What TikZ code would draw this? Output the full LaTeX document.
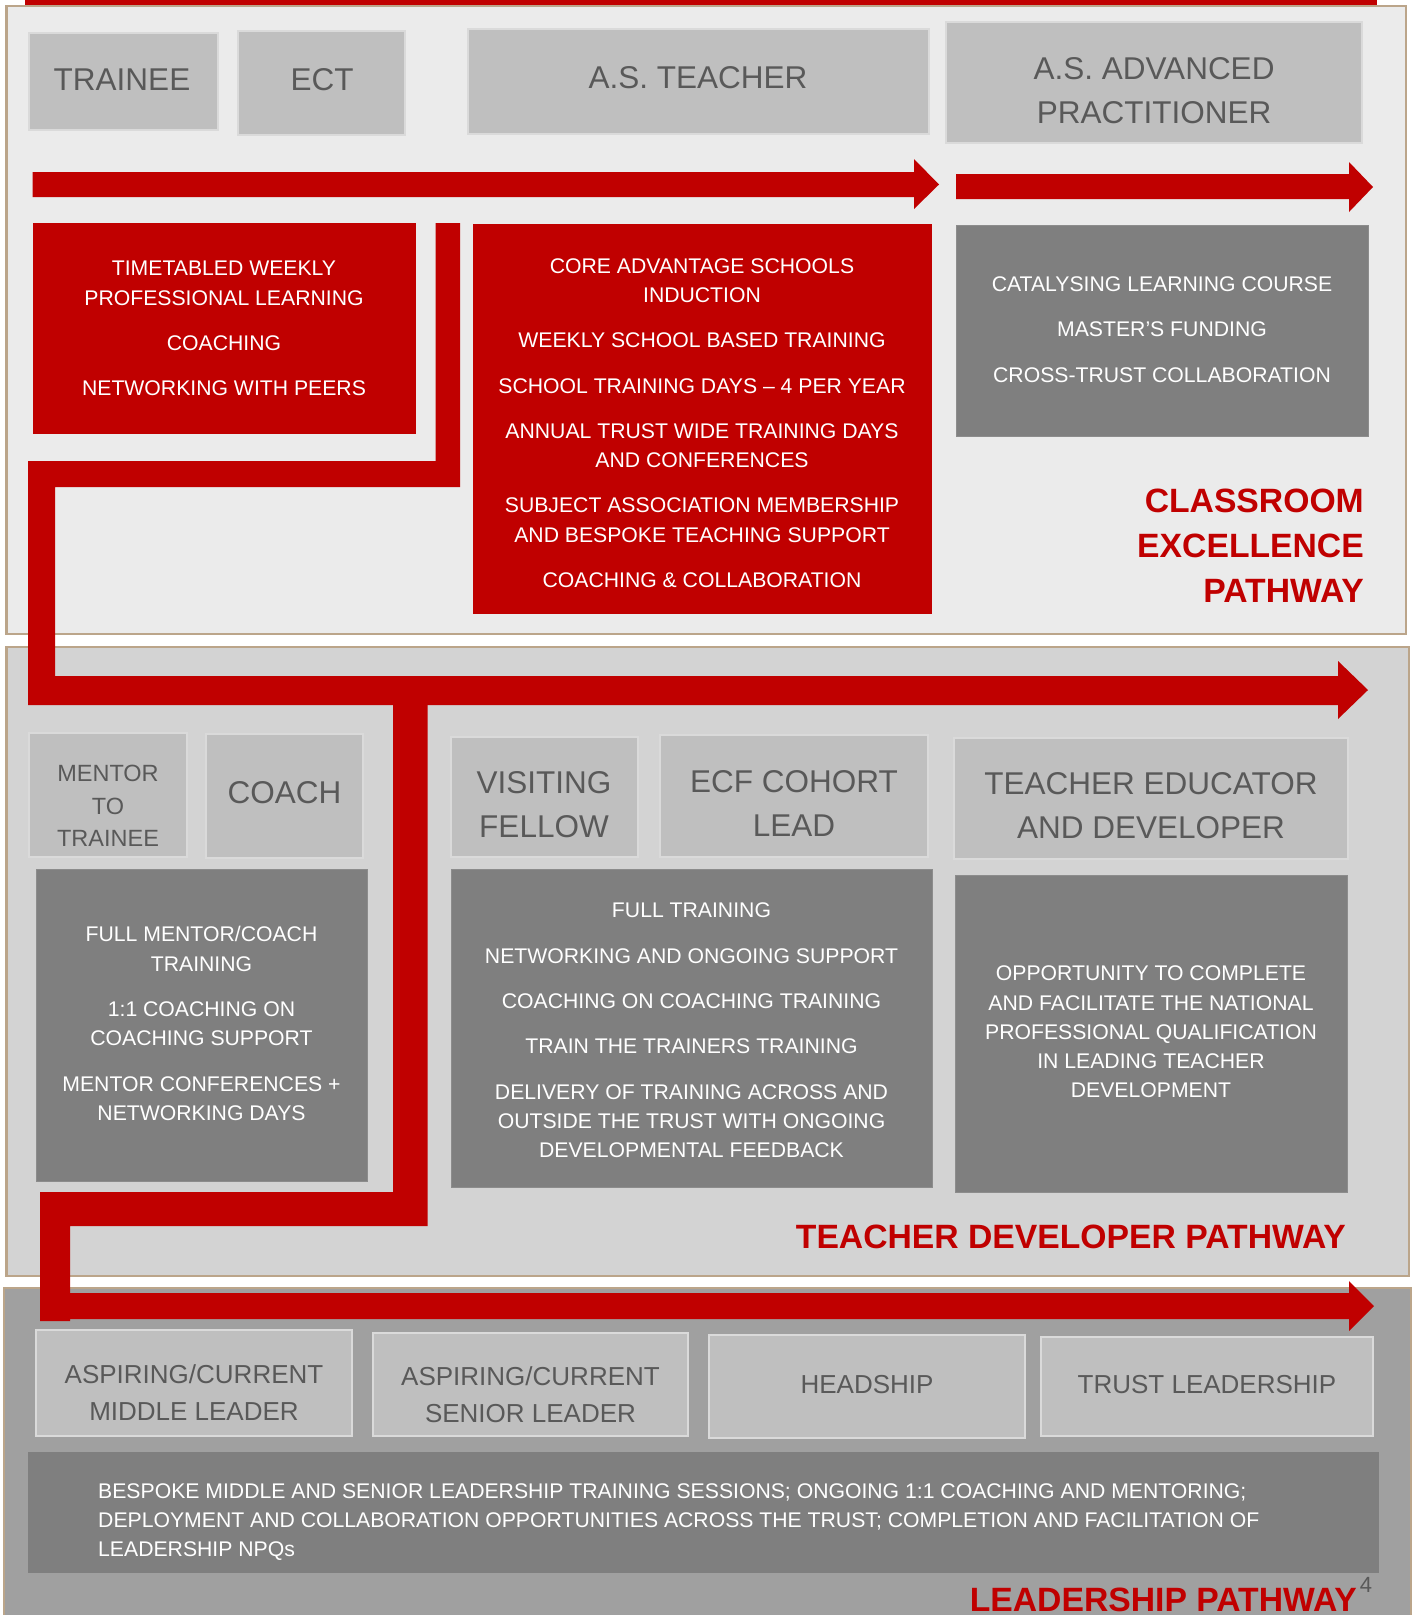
\documentclass[tikz,border=0pt]{standalone}
\usepackage{fontspec}
\setmainfont{Liberation Sans}
\usetikzlibrary{fit}
\definecolor{cRed}{HTML}{C00000}
\definecolor{cTan}{HTML}{BBA58A}
\definecolor{cSecA}{HTML}{EBEBEB}
\definecolor{cSecB}{HTML}{D3D3D3}
\definecolor{cSecC}{HTML}{A0A0A0}
\definecolor{cRole}{HTML}{BFBFBF}
\definecolor{cRoleEdge}{HTML}{DADADA}
\definecolor{cDark}{HTML}{7F7F7F}
\definecolor{cDarkEdge}{HTML}{8C8C8C}
\definecolor{cRoleText}{HTML}{595959}
\tikzset{
  panel/.style={draw=cTan, line width=2.5pt, inner sep=0pt},
  rolebox/.style={fill=cRole, draw=cRoleEdge, line width=2.5pt, inner sep=0pt},
  darkbox/.style={fill=cDark, draw=cDarkEdge, line width=1pt, inner sep=0pt},
  redbox/.style={fill=cRed, inner sep=0pt},
  redpath/.style={fill=cRed, draw=none},
  roletext/.style={text=cRoleText, align=center, inner sep=0pt, font=\fontsize{31.5}{44}\selectfont},
  smallrole/.style={text=cRoleText, align=center, inner sep=0pt, font=\fontsize{23.5}{32.5}\selectfont},
  leadrole/.style={text=cRoleText, align=center, inner sep=0pt, font=\fontsize{26}{37}\selectfont},
  bodytext/.style={text=white, align=center, inner sep=0pt, font=\fontsize{21.2}{29.3}\selectfont},
  pathtext/.style={text=cRed, inner sep=0pt, font=\fontsize{33.7}{45}\selectfont\bfseries},
}
\begin{document}
\begin{tikzpicture}[x=1pt,y=-1pt]
\useasboundingbox (0,0) rectangle (1414,1615);
\fill[white] (0,0) rectangle (1414,1615);

% panels
\node[panel, fill=cSecA, fit={(6.3,6) (1406,634)}] (secA) {};
\node[panel, fill=cSecB, fit={(6.3,647) (1409,1276)}] (secB) {};
\node[panel, fill=cSecC, fit={(4,1288) (1411,1640)}] (secC) {};
\fill[cRed] (25,0) rectangle (1377,5);

% ---------- Section A
\node[rolebox, fit={(29,33) (218,130)}] (trainee) {};
\node[rolebox, fit={(238,31) (405,135)}] (ect) {};
\node[rolebox, fit={(468,29) (929,134)}] (asteacher) {};
\node[rolebox, fit={(946,22) (1362,143)}] (asadv) {};
\node[roletext] (trainee-t) at (122,79.5) {TRAINEE};
\node[roletext] (ect-t) at (322,79.5) {ECT};
\node[roletext] (asteacher-t) at (698,78) {A.S. TEACHER};
\node[roletext] (asadv-t) at (1154,91) {A.S. ADVANCED\\PRACTITIONER};

\fill[redpath] (32.5,172) -- (914,172) -- (914,159) -- (939,184.5) -- (914,209) -- (914,197) -- (32.5,197) -- cycle;
\fill[redpath] (956,174) -- (1349,174) -- (1349,162) -- (1373,187) -- (1349,212) -- (1349,199) -- (956,199) -- cycle;

\node[redbox, fit={(32.5,223) (416,434)}] (redA) {};
\node[bodytext] (redA-t) at (224,328.5) {TIMETABLED WEEKLY\\PROFESSIONAL LEARNING\\[16pt]COACHING\\[16pt]NETWORKING WITH PEERS};
\node[redbox, fit={(472.5,224) (932,614)}] (redB) {};
\node[bodytext] (redB-t) at (702,423) {CORE ADVANTAGE SCHOOLS\\INDUCTION\\[16pt]WEEKLY SCHOOL BASED TRAINING\\[16pt]SCHOOL TRAINING DAYS \textendash{} 4 PER YEAR\\[16pt]ANNUAL TRUST WIDE TRAINING DAYS\\AND CONFERENCES\\[16pt]SUBJECT ASSOCIATION MEMBERSHIP\\AND BESPOKE TEACHING SUPPORT\\[16pt]COACHING \& COLLABORATION};
\node[darkbox, fit={(956,225) (1368,436)}] (greyA) {};
\node[bodytext] (greyA-t) at (1162,329.5) {CATALYSING LEARNING COURSE\\[16pt]MASTER’S FUNDING\\[16pt]CROSS-TRUST COLLABORATION};

\node[pathtext, align=right, anchor=east] (pathA) at (1364,546) {CLASSROOM\\EXCELLENCE\\PATHWAY};

% red route A -> B
\fill[redpath] (435.5,223) -- (460,223) -- (460,487) -- (55,487) -- (55,676) -- (1338,676) -- (1338,661) -- (1368,690) -- (1338,719) -- (1338,705) -- (28,705) -- (28,461) -- (435.5,461) -- cycle;

% ---------- Section B
\node[rolebox, fit={(29,733) (187,857)}] (mentor) {};
\node[rolebox, fit={(206,734) (363,858)}] (coach) {};
\node[rolebox, fit={(451,737) (638,857)}] (visiting) {};
\node[rolebox, fit={(660,735) (928,857)}] (ecf) {};
\node[rolebox, fit={(954,738) (1348,859)}] (educator) {};
\node[smallrole] (mentor-t) at (108,806) {MENTOR\\TO\\TRAINEE};
\node[roletext] (coach-t) at (284.5,793) {COACH};
\node[roletext] (visiting-t) at (544,805) {VISITING\\FELLOW};
\node[roletext] (ecf-t) at (794,803.5) {ECF COHORT\\LEAD};
\node[roletext] (educator-t) at (1151,805.5) {TEACHER EDUCATOR\\AND DEVELOPER};

\node[darkbox, fit={(36,869) (367,1181)}] (greyB1) {};
\node[bodytext] (greyB1-t) at (201.5,1023.5) {FULL MENTOR/COACH\\TRAINING\\[16pt]1:1 COACHING ON\\COACHING SUPPORT\\[16pt]MENTOR CONFERENCES +\\NETWORKING DAYS};
\node[darkbox, fit={(451,869) (932,1187)}] (greyB2) {};
\node[bodytext] (greyB2-t) at (691.5,1030.5) {FULL TRAINING\\[16pt]NETWORKING AND ONGOING SUPPORT\\[16pt]COACHING ON COACHING TRAINING\\[16pt]TRAIN THE TRAINERS TRAINING\\[16pt]DELIVERY OF TRAINING ACROSS AND\\OUTSIDE THE TRUST WITH ONGOING\\DEVELOPMENTAL FEEDBACK};
\node[darkbox, fit={(955,875) (1347,1192)}] (greyB3) {};
\node[bodytext] (greyB3-t) at (1151,1032) {OPPORTUNITY TO COMPLETE\\AND FACILITATE THE NATIONAL\\PROFESSIONAL QUALIFICATION\\IN LEADING TEACHER\\DEVELOPMENT};

\node[pathtext, anchor=east] (pathB) at (1346,1237) {TEACHER DEVELOPER PATHWAY};

% red route B -> C
\fill[redpath] (393,700) -- (427.5,700) -- (427.5,1226) -- (70,1226) -- (70,1293) -- (1349,1293) -- (1349,1281) -- (1374,1306) -- (1349,1331) -- (1349,1319) -- (70,1319) -- (70,1321) -- (40,1321) -- (40,1192) -- (393,1192) -- cycle;

% ---------- Section C
\node[rolebox, fit={(36,1330) (352,1436)}] (middle) {};
\node[rolebox, fit={(373,1333) (688,1436)}] (senior) {};
\node[rolebox, fit={(709,1335) (1025,1438)}] (head) {};
\node[rolebox, fit={(1041,1337) (1373,1436)}] (trust) {};
\node[leadrole] (middle-t) at (194,1392.5) {ASPIRING/CURRENT\\MIDDLE LEADER};
\node[leadrole] (senior-t) at (530.5,1394.5) {ASPIRING/CURRENT\\SENIOR LEADER};
\node[leadrole] (head-t) at (867,1385) {HEADSHIP};
\node[leadrole] (trust-t) at (1207,1384.5) {TRUST LEADERSHIP};

\node[darkbox, draw=none, fit={(28,1452) (1379,1573)}] (greyC) {};
\node[bodytext, align=left, anchor=west] (greyC-t) at (98,1522) {BESPOKE MIDDLE AND SENIOR LEADERSHIP TRAINING SESSIONS; ONGOING 1:1 COACHING AND MENTORING;\\DEPLOYMENT AND COLLABORATION OPPORTUNITIES ACROSS THE TRUST; COMPLETION AND FACILITATION OF\\LEADERSHIP NPQs};

\node[pathtext, anchor=east] (pathC) at (1357,1600) {LEADERSHIP PATHWAY};
\node[text=cRoleText, inner sep=0pt, font=\fontsize{22}{22}\selectfont] (pagenum) at (1366,1585) {4};
\end{tikzpicture}
\end{document}
